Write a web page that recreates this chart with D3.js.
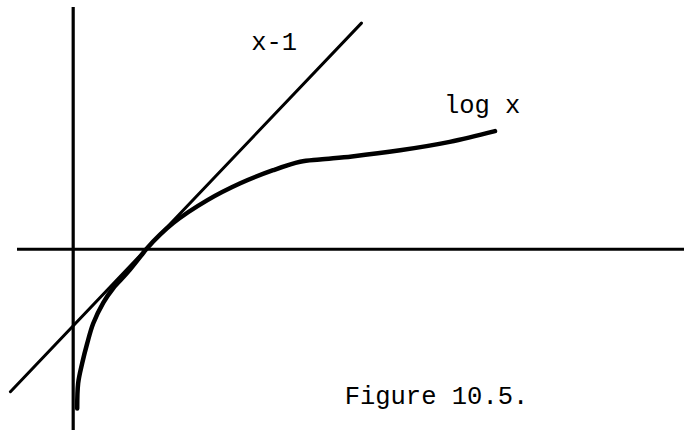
<!DOCTYPE html>
<html>
<head>
<meta charset="utf-8">
<script src="https://cdn.jsdelivr.net/npm/d3@7/dist/d3.min.js"></script>
<style>
  html, body { margin: 0; padding: 0; background: #fff; }
  svg { display: block; }
  text { font-family: "Liberation Mono", "DejaVu Sans Mono", monospace; fill: #000; }
</style>
</head>
<body>
<svg id="fig" width="684" height="432"></svg>
<script>
// Axis extents (data units)
const xAxisExtent = [-0.77, 8.37];
const yAxisExtent = [-2.36, 3.16];

// Tangent line y = x - 1, drawn between its two end points
const tangentX = [-0.86, 3.95];
const tangentY = [-1.86, 2.95];

// Hand-drawn log x curve, traced point by point
const logX = [0.055, 0.068, 0.123, 0.192, 0.274, 0.411, 0.548, 0.740, 0.959, 1.00, 1.37, 1.84, 2.29, 2.74, 3.11, 3.38, 3.82, 4.48, 5.16, 5.78];
const logY = [-2.08, -1.75, -1.49, -1.23, -0.97, -0.70, -0.51, -0.31, -0.05, 0.00, 0.34, 0.64, 0.86, 1.03, 1.14, 1.17, 1.21, 1.29, 1.40, 1.54];

// Labels
const labels = ["x-1", "log x", "Figure 10.5."];
const labelX = [2.44, 5.08, 3.72];
const labelY = [2.60, 1.78, -2.02];

const svg = d3.select("#fig");

const x = d3.scaleLinear().domain(xAxisExtent).range([17, 684]);
const y = d3.scaleLinear().domain(yAxisExtent).range([430, 7]);

// Axes through the origin
svg.append("line")
  .attr("x1", x(xAxisExtent[0])).attr("x2", x(xAxisExtent[1]))
  .attr("y1", y(0)).attr("y2", y(0))
  .attr("stroke", "#000").attr("stroke-width", 3);

svg.append("line")
  .attr("x1", x(0)).attr("x2", x(0))
  .attr("y1", y(yAxisExtent[0])).attr("y2", y(yAxisExtent[1]))
  .attr("stroke", "#000").attr("stroke-width", 3.2);

// Tangent line
const tangent = tangentX.map((v, i) => [v, tangentY[i]]);
svg.append("path")
  .datum(tangent)
  .attr("d", d3.line().x(d => x(d[0])).y(d => y(d[1])))
  .attr("fill", "none")
  .attr("stroke", "#000")
  .attr("stroke-width", 3)
  .attr("stroke-linecap", "round");

// log x curve
const curvePts = logX.map((v, i) => [v, logY[i]]);
svg.append("path")
  .datum(curvePts)
  .attr("d", d3.line().curve(d3.curveCatmullRom.alpha(0.5)).x(d => x(d[0])).y(d => y(d[1])))
  .attr("fill", "none")
  .attr("stroke", "#000")
  .attr("stroke-width", 4.5)
  .attr("stroke-linecap", "round")
  .attr("stroke-linejoin", "round");

// Text labels
svg.selectAll("text.lbl")
  .data(labels)
  .enter().append("text")
  .attr("class", "lbl")
  .attr("x", (d, i) => x(labelX[i]))
  .attr("y", (d, i) => y(labelY[i]))
  .attr("font-size", 25.5)
  .text(d => d);
</script>
</body>
</html>
